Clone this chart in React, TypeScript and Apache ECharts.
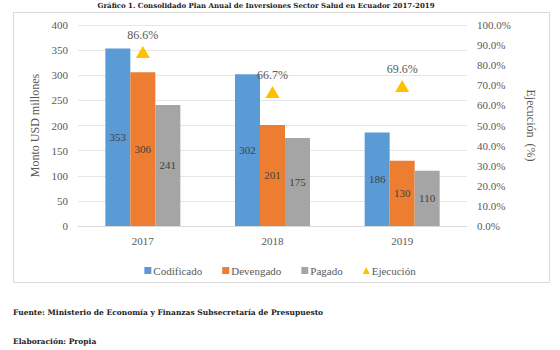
import React, { useEffect, useRef } from "react";
import * as echarts from "echarts";

const years = ["2017", "2018", "2019"];
const codificado = [353, 302, 186];
const devengado = [306, 201, 130];
const pagado = [241, 175, 110];
const ejecucion = [86.6, 66.7, 69.6];

const titleText = "Gráfico 1. Consolidado Plan Anual de Inversiones Sector Salud en Ecuador 2017-2019";
const fuenteText = "Fuente: Ministerio de Economía y Finanzas Subsecretaría de Presupuesto";
const elaboracionText = "Elaboración: Propia";

const SERIF = "Liberation Serif";
const SLAB = "DejaVu Serif";

export default function App() {
  const ref = useRef<HTMLDivElement>(null);
  useEffect(() => {
    const chart = echarts.init(ref.current!, undefined, { renderer: "svg" });
    const barLabel = {
      show: true,
      position: "inside",
      color: "#404040",
      fontFamily: SERIF,
      fontSize: 11,
    };
    chart.setOption({
      animation: false,
      backgroundColor: "#ffffff",
      textStyle: { fontFamily: SERIF },
      graphic: [
        {
          type: "rect",
          shape: { x: 13.5, y: 12.5, width: 536, height: 270 },
          style: { fill: "none", stroke: "#d9d9d9", lineWidth: 1 },
          silent: true,
        },
        {
          type: "text",
          x: 266,
          y: 5,
          style: {
            text: titleText,
            fontFamily: SLAB,
            fontWeight: "bold",
            fontSize: 7,
            fill: "#222",
            align: "center",
            verticalAlign: "middle",
          },
        },
        {
          type: "text",
          x: 13,
          y: 312,
          style: {
            text: fuenteText,
            fontFamily: SLAB,
            fontWeight: "bold",
            fontSize: 7.5,
            fill: "#222",
            verticalAlign: "middle",
          },
        },
        {
          type: "text",
          x: 13,
          y: 341,
          style: {
            text: elaboracionText,
            fontFamily: SLAB,
            fontWeight: "bold",
            fontSize: 7.5,
            fill: "#222",
            verticalAlign: "middle",
          },
        },
      ],
      legend: {
        top: 260,
        left: "center",
        itemWidth: 7,
        itemHeight: 7,
        itemGap: 20,
        textStyle: { fontFamily: SERIF, fontSize: 11, color: "#595959", padding: [0, 0, 0, -3] },
        data: [
          { name: "Codificado", icon: "rect" },
          { name: "Devengado", icon: "rect" },
          { name: "Pagado", icon: "rect" },
          { name: "Ejecución", icon: "triangle" },
        ],
      },
      grid: { left: 78, right: 93, top: 25, bottom: 124 },
      xAxis: {
        type: "category",
        data: years,
        axisLine: { lineStyle: { color: "#d9d9d9" } },
        axisTick: { show: false },
        axisLabel: { color: "#595959", fontFamily: SERIF, fontSize: 11, margin: 9 },
      },
      yAxis: [
        {
          type: "value",
          min: 0,
          max: 400,
          interval: 50,
          name: "Monto USD millones",
          nameLocation: "middle",
          nameGap: 30,
          nameTextStyle: { color: "#595959", fontFamily: SERIF, fontSize: 12 },
          axisLine: { show: false },
          axisTick: { show: false },
          splitLine: { lineStyle: { color: "#e6e6e6" } },
          axisLabel: { color: "#595959", fontFamily: SERIF, fontSize: 11, margin: 10 },
        },
        {
          type: "value",
          min: 0,
          max: 100,
          interval: 10,
          name: "Ejecución  (%)",
          nameLocation: "middle",
          nameGap: 58,
          nameRotate: -90,
          nameTextStyle: { color: "#595959", fontFamily: SERIF, fontSize: 12 },
          axisLine: { show: false },
          axisTick: { show: false },
          splitLine: { show: false },
          axisLabel: {
            color: "#595959",
            fontFamily: SERIF,
            fontSize: 11,
            margin: 10,
            formatter: (v: number) => v.toFixed(1) + "%",
          },
        },
      ],
      series: [
        {
          name: "Codificado",
          type: "bar",
          data: codificado,
          barWidth: 25,
          barGap: "0%",
          itemStyle: { color: "#5B9BD5" },
          label: barLabel,
        },
        {
          name: "Devengado",
          type: "bar",
          data: devengado,
          barWidth: 25,
          barGap: "0%",
          itemStyle: { color: "#ED7D31" },
          label: barLabel,
        },
        {
          name: "Pagado",
          type: "bar",
          data: pagado,
          barWidth: 25,
          barGap: "0%",
          itemStyle: { color: "#A5A5A5" },
          label: barLabel,
        },
        {
          name: "Ejecución",
          type: "line",
          yAxisIndex: 1,
          data: ejecucion,
          symbol: "triangle",
          symbolSize: [14, 12],
          lineStyle: { width: 0, opacity: 0 },
          itemStyle: { color: "#FFC000" },
          label: {
            show: true,
            position: "top",
            distance: 5,
            color: "#595959",
            fontFamily: SERIF,
            fontSize: 12,
            formatter: (p: any) => p.value.toFixed(1) + "%",
          },
        },
      ],
    });
    return () => chart.dispose();
  }, []);
  return (
    <div
      ref={ref}
      style={{ position: "fixed", left: 0, top: 0, width: 560, height: 350, background: "#fff" }}
    />
  );
}
